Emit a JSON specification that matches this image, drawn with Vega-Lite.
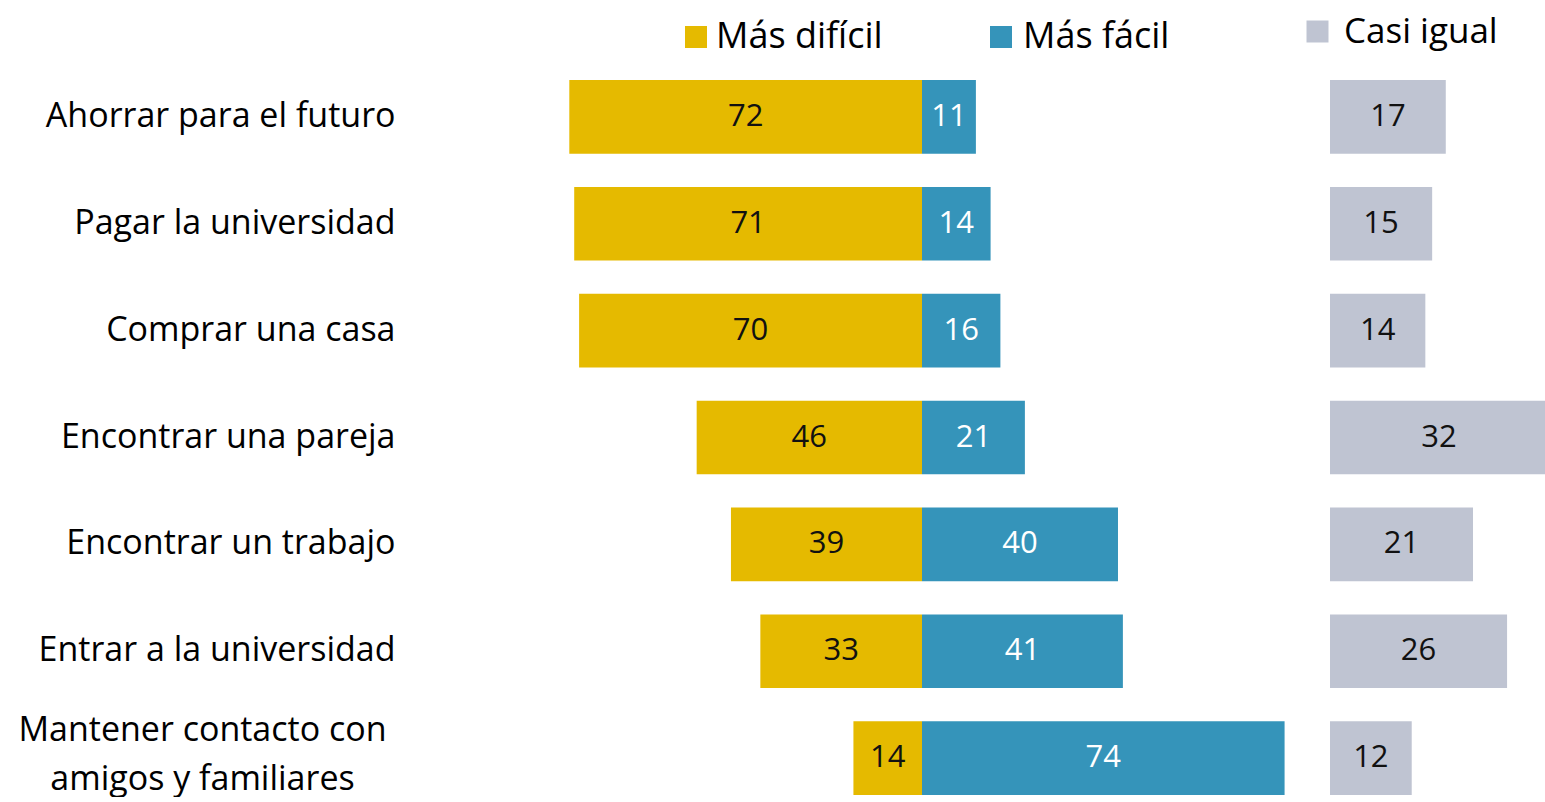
{
  "$schema": "https://vega.github.io/schema/vega-lite/v6.json",
  "background": "white",
  "padding": {"left": 17, "top": 14, "right": 0, "bottom": 0},
  "bounds": "flush",
  "spacing": 0,
  "config": {"view": {"stroke": null}, "font": "Open Sans"},
  "data": {
    "values": [
      {"item": "Ahorrar para el futuro", "dificil": 72, "facil": 11, "igual": 17},
      {"item": "Pagar la universidad", "dificil": 71, "facil": 14, "igual": 15},
      {"item": "Comprar una casa", "dificil": 70, "facil": 16, "igual": 14},
      {"item": "Encontrar una pareja", "dificil": 46, "facil": 21, "igual": 32},
      {"item": "Encontrar un trabajo", "dificil": 39, "facil": 40, "igual": 21},
      {"item": "Entrar a la universidad", "dificil": 33, "facil": 41, "igual": 26},
      {"item": "Mantener contacto con amigos y familiares", "dificil": 14, "facil": 74, "igual": 12}
    ]
  },
  "resolve": {"scale": {"color": "independent", "x": "independent", "y": "shared"}, "legend": {"color": "independent"}},
  "hconcat": [
    {
      "width": 362,
      "height": 715,
      "encoding": {
        "y": {
          "field": "item", "type": "nominal", "sort": null,
          "scale": {"paddingInner": 0.31, "paddingOuter": 0},
          "axis": {
            "title": null, "domain": false, "ticks": false, "tickSize": 0,
            "labelFont": "Open Sans", "labelFontSize": 34, "labelColor": "#000", "labelLimit": 0,
            "labelLineHeight": 49,
            "labelPadding": {"condition": {"test": "datum.value == 'Mantener contacto con amigos y familiares'", "value": 358}, "value": 165},
            "labelAlign": {"condition": {"test": "datum.value == 'Mantener contacto con amigos y familiares'", "value": "center"}, "value": "right"},
            "labelOffset": {"condition": {"test": "datum.value == 'Mantener contacto con amigos y familiares'", "value": -27}, "value": 0},
            "labelExpr": "datum.value == 'Mantener contacto con amigos y familiares' ? ['Mantener contacto con', 'amigos y familiares'] : datum.value"
          }
        }
      },
      "resolve": {"scale": {"x": "independent"}},
      "layer": [
        {
          "mark": {"type": "bar"},
          "encoding": {
            "x": {"field": "dificil", "type": "quantitative", "scale": {"domain": [0, 73.9], "reverse": true, "nice": false}, "axis": null},
            "color": {
              "datum": "Más difícil", "type": "nominal",
              "scale": {"range": ["#E5BA00"]},
              "legend": {"orient": "none", "legendX": 118, "legendY": -61, "title": null, "symbolType": "square", "symbolSize": 484, "symbolStrokeWidth": 0, "symbolOpacity": 1, "labelFont": "Open Sans", "labelFontWeight": 500, "labelFontSize": 36, "labelColor": "#000", "labelOffset": 2, "padding": 0, "labelLimit": 0}
            }
          }
        },
        {
          "mark": {"type": "text", "font": "Open Sans", "fontSize": 31, "color": "#111"},
          "encoding": {
            "x": {"field": "dificil", "type": "quantitative", "scale": {"domain": [0, 147.8], "reverse": true, "nice": false}, "axis": null},
            "text": {"field": "dificil", "type": "quantitative"}
          }
        }
      ]
    },
    {
      "width": 408,
      "height": 715,
      "encoding": {"y": {"field": "item", "type": "nominal", "sort": null, "axis": null}},
      "resolve": {"scale": {"x": "independent"}},
      "layer": [
        {
          "mark": {"type": "bar"},
          "encoding": {
            "x": {"field": "facil", "type": "quantitative", "scale": {"domain": [0, 83.27], "nice": false}, "axis": null},
            "color": {
              "datum": "Más fácil", "type": "nominal",
              "scale": {"range": ["#3594BA"]},
              "legend": {"orient": "none", "legendX": 61, "legendY": -61, "title": null, "symbolType": "square", "symbolSize": 484, "symbolStrokeWidth": 0, "symbolOpacity": 1, "labelFont": "Open Sans", "labelFontWeight": 500, "labelFontSize": 36, "labelColor": "#000", "labelOffset": 4, "padding": 0, "labelLimit": 0}
            }
          }
        },
        {
          "mark": {"type": "text", "font": "Open Sans", "fontSize": 31, "color": "white"},
          "encoding": {
            "x": {"field": "facil", "type": "quantitative", "scale": {"domain": [0, 166.54], "nice": false}, "axis": null},
            "text": {"field": "facil", "type": "quantitative"}
          }
        }
      ]
    },
    {
      "width": 215,
      "height": 715,
      "encoding": {"y": {"field": "item", "type": "nominal", "sort": null, "axis": null}},
      "resolve": {"scale": {"x": "independent"}},
      "layer": [
        {
          "mark": {"type": "bar", "clip": true},
          "encoding": {
            "x": {"field": "igual", "type": "quantitative", "scale": {"domain": [0, 31.57], "nice": false}, "axis": null},
            "color": {
              "datum": "Casi igual", "type": "nominal",
              "scale": {"range": ["#BFC4D2"]},
              "legend": {"orient": "none", "legendX": -30, "legendY": -66, "title": null, "symbolType": "square", "symbolSize": 484, "symbolStrokeWidth": 0, "symbolOpacity": 1, "labelFont": "Open Sans", "labelFontSize": 35, "labelColor": "#000", "labelOffset": 9, "padding": 0, "labelLimit": 0}
            }
          }
        },
        {
          "mark": {"type": "text", "font": "Open Sans", "fontSize": 31, "color": "#111"},
          "encoding": {
            "x": {"field": "igual", "type": "quantitative", "scale": {"domain": [0, 63.14], "nice": false}, "axis": null},
            "text": {"field": "igual", "type": "quantitative"}
          }
        }
      ]
    }
  ]
}
